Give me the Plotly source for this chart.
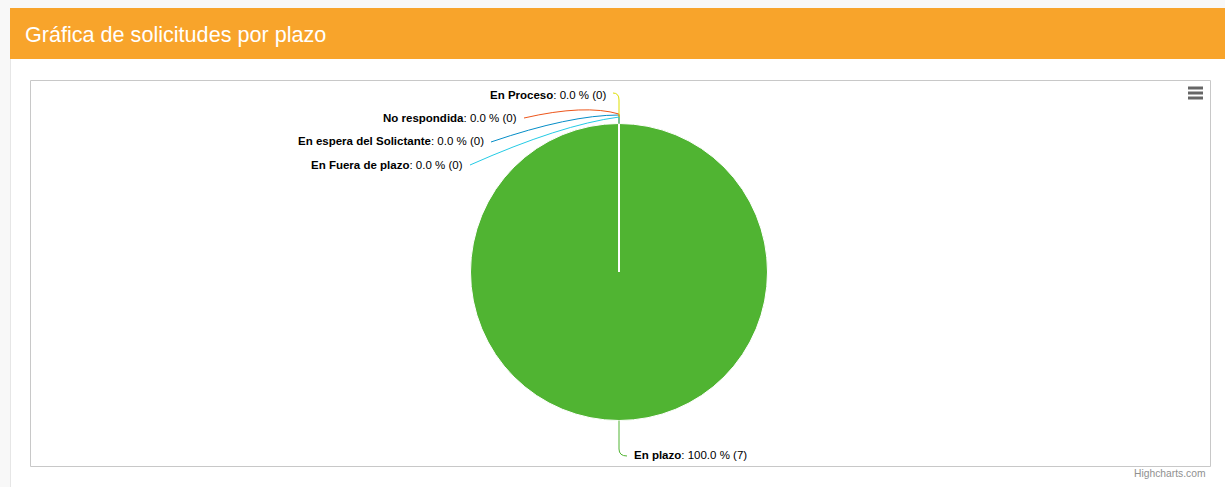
import plotly.graph_objects as go

# ---- data ----
names = ["En espera del Solictante", "En plazo", "No respondida", "En Proceso", "En Fuera de plazo"]
counts = [0, 7, 0, 0, 0]
colors = ["#058DC7", "#50B432", "#ED561B", "#DDDF00", "#24CBE5"]
title_text = "Gráfica de solicitudes por plazo"
credit_text = "Highcharts.com"

W, H = 1225, 487

def px(x):
    return x / W

def py(y):
    return 1 - y / H

# pie geometry (pixels)
CX, CY, R = 619, 272, 148.5

total = sum(counts)
pcts = [100.0 * c / total if total else 0.0 for c in counts]

fig = go.Figure()
fig.add_trace(go.Pie(
    labels=names,
    values=counts,
    sort=False,
    direction="clockwise",
    rotation=0,
    marker=dict(colors=colors, line=dict(color="#FFFFFF", width=1)),
    textinfo="none",
    hoverinfo="label+percent+value",
    showlegend=False,
    domain=dict(x=[px(CX - R), px(CX + R)], y=[py(CY + R), py(CY - R)]),
))

shapes = []
# page background strips
shapes.append(dict(type="rect", xref="paper", yref="paper", x0=0, x1=1, y0=py(8), y1=1,
                   fillcolor="#F8F8F8", line=dict(width=0), layer="below"))
shapes.append(dict(type="rect", xref="paper", yref="paper", x0=0, x1=px(10), y0=0, y1=1,
                   fillcolor="#F8F8F8", line=dict(width=0), layer="below"))
shapes.append(dict(type="line", xref="paper", yref="paper", x0=px(10.5), x1=px(10.5), y0=0, y1=py(59),
                   line=dict(color="#E6E6E6", width=1), layer="below"))
# header bar
shapes.append(dict(type="rect", xref="paper", yref="paper", x0=px(10), x1=1, y0=py(59), y1=py(8),
                   fillcolor="#F8A42B", line=dict(width=0), layer="below"))
# chart border
shapes.append(dict(type="rect", xref="paper", yref="paper", x0=px(30.5), x1=px(1210.5), y0=py(466.5), y1=py(80.5),
                   fillcolor="rgba(0,0,0,0)", line=dict(color="#C8C8C8", width=1), layer="below"))
# menu icon
for yy in (88, 93, 98):
    shapes.append(dict(type="line", xref="paper", yref="paper", x0=px(1188), x1=px(1203), y0=py(yy), y1=py(yy),
                       line=dict(color="#666666", width=3)))

top = CY - R
bot = CY + R

def P(x, y):
    return f"{px(x):.5f},{py(y):.5f}"

# label layout: (anchor x, y, side)
label_pos = {
    "En Proceso": (608, 95, "right"),
    "No respondida": (519, 118, "right"),
    "En espera del Solictante": (486, 141, "right"),
    "En Fuera de plazo": (465, 165, "right"),
    "En plazo": (632, 455, "left"),
}
connectors = {
    "En Proceso": f"M {P(CX, top)} L {P(CX, 100)} Q {P(CX, 93)} {P(613, 93)}",
    "No respondida": f"M {P(CX, top)} L {P(CX, 114)} Q {P(585, 104)} {P(524, 118)}",
    "En espera del Solictante": f"M {P(CX, top)} L {P(CX, 115)} Q {P(570, 115)} {P(491, 142)}",
    "En Fuera de plazo": f"M {P(CX, top)} L {P(CX, 117)} Q {P(560, 125)} {P(470, 165)}",
    "En plazo": f"M {P(CX, bot)} L {P(CX, 449)} Q {P(CX, 456)} {P(627, 456)}",
}

annotations = []
for n, c, p, col in zip(names, counts, pcts, colors):
    shapes.append(dict(type="path", xref="paper", yref="paper", path=connectors[n],
                       line=dict(color=col, width=1)))
    x, y, side = label_pos[n]
    annotations.append(dict(
        xref="paper", yref="paper", x=px(x), y=py(y),
        xanchor=side, yanchor="middle", showarrow=False,
        text=f"<b>{n}</b>: {p:.1f} % ({c})",
        font=dict(family="Liberation Sans, Arial, sans-serif", size=11.5, color="#000000"),
    ))

annotations.append(dict(
    xref="paper", yref="paper", x=px(23), y=py(34), xanchor="left", yanchor="middle",
    showarrow=False, text=title_text,
    font=dict(family="Liberation Sans, Arial, Helvetica, sans-serif", size=21.6, color="#FFFFFF"),
))
annotations.append(dict(
    xref="paper", yref="paper", x=px(1208), y=py(473), xanchor="right", yanchor="middle",
    showarrow=False, text=credit_text,
    font=dict(family="Liberation Sans, Arial, sans-serif", size=10.3, color="#909090"),
))

fig.update_layout(
    width=W, height=H,
    margin=dict(l=0, r=0, t=0, b=0),
    paper_bgcolor="#FFFFFF",
    plot_bgcolor="#FFFFFF",
    shapes=shapes,
    annotations=annotations,
)

fig.write_html("out.html", config={"displayModeBar": False},
               post_script="document.body.style.margin='0';document.body.style.overflow='hidden';")
